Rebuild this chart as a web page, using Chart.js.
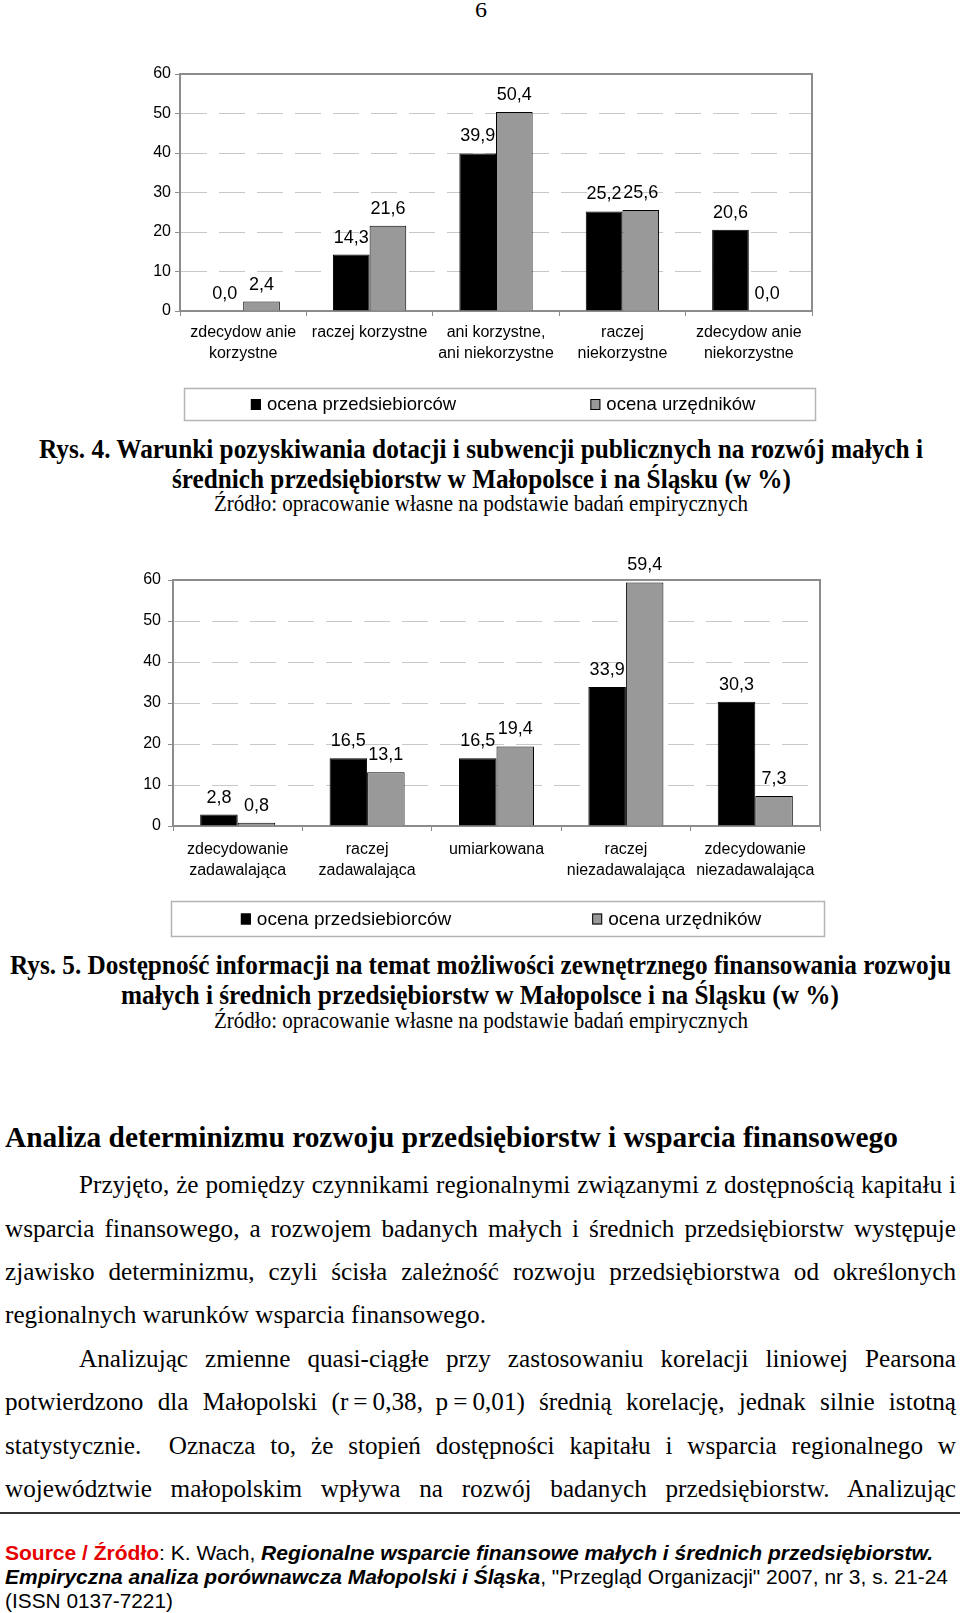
<!DOCTYPE html>
<html><head><meta charset="utf-8">
<script src="https://cdn.jsdelivr.net/npm/chart.js@4.4.0/dist/chart.umd.min.js"></script>
<style>
html,body{margin:0;padding:0;background:#fff;}
body{width:960px;height:1613px;position:relative;overflow:hidden;}
canvas{position:absolute;}
.t{position:absolute;white-space:nowrap;transform-origin:0 50%;color:#000;}
.serif{font-family:"Liberation Serif","Times New Roman",serif;}
.sans{font-family:"Liberation Sans",Arial,sans-serif;}
</style></head><body>
<canvas id="c1" width="700" height="380" style="left:130px;top:50px"></canvas>
<canvas id="c2" width="720" height="390" style="left:120px;top:555px"></canvas>
<script>
// ---- data ----
const seriesNames = ['ocena przedsiebiorców', 'ocena urzędników'];
const cats1 = [['zdecydow anie','korzystne'], 'raczej korzystne', ['ani korzystne,','ani niekorzystne'], ['raczej','niekorzystne'], ['zdecydow anie','niekorzystne']];
const przed1 = [0.0, 14.3, 39.9, 25.2, 20.6];
const urz1   = [2.4, 21.6, 50.4, 25.6, 0.0];
const cats2 = [['zdecydowanie','zadawalająca'], ['raczej','zadawalająca'], 'umiarkowana', ['raczej','niezadawalająca'], ['zdecydowanie','niezadawalająca']];
const przed2 = [2.8, 16.5, 16.5, 33.9, 30.3];
const urz2   = [0.8, 13.1, 19.4, 59.4, 7.3];
const yMin = 0, yMax = 60, yStep = 10;

const SANS = '"Liberation Sans", Arial, sans-serif';
Chart.defaults.font.family = SANS;
Chart.defaults.color = '#000';

const valueLabels = {
  id: 'valueLabels',
  afterDatasetsDraw(chart, args, o) {
    const ctx = chart.ctx;
    ctx.save();
    ctx.font = o.size + 'px ' + SANS;
    ctx.fillStyle = '#000';
    ctx.textAlign = 'center';
    ctx.textBaseline = 'alphabetic';
    chart.data.datasets.forEach((ds, i) => {
      chart.getDatasetMeta(i).data.forEach((bar, j) => {
        const txt = ds.data[j].toFixed(1).replace('.', ',');
        ctx.fillText(txt, bar.x, bar.y - o.gap);
      });
    });
    ctx.restore();
  }
};
const frame = {
  id: 'frame',
  afterDraw(chart) {
    const {ctx, chartArea: a} = chart;
    ctx.save();
    ctx.strokeStyle = '#8c8c8c';
    ctx.lineWidth = 2;
    ctx.beginPath();
    ctx.moveTo(a.left, a.top); ctx.lineTo(a.right, a.top); ctx.lineTo(a.right, a.bottom);
    ctx.stroke();
    ctx.restore();
  }
};
const boxLegend = {
  id: 'boxLegend',
  afterDraw(chart, args, o) {
    const ctx = chart.ctx;
    ctx.save();
    ctx.strokeStyle = '#b4b4b4';
    ctx.lineWidth = 1.5;
    ctx.strokeRect(o.x + 0.5, o.y + 0.5, o.w, o.h);
    ctx.font = o.size + 'px ' + SANS;
    ctx.textBaseline = 'middle';
    ctx.textAlign = 'left';
    const cy = o.y + o.h / 2;
    chart.data.datasets.forEach((ds, i) => {
      const sx = o.x + o.w * o.pos[i];
      ctx.fillStyle = ds.backgroundColor;
      ctx.fillRect(sx, cy - 5, 10, 11);
      ctx.strokeStyle = '#000';
      ctx.lineWidth = 1;
      ctx.strokeRect(sx + 0.5, cy - 4.5, 9, 10);
      ctx.fillStyle = '#000';
      ctx.fillText(ds.label, sx + 16, cy + 1);
    });
    ctx.restore();
  }
};

function makeChart(id, cats, a, b, L) {
  return new Chart(document.getElementById(id), {
    type: 'bar',
    data: {
      labels: cats,
      datasets: [
        {label: seriesNames[0], data: a, backgroundColor: '#000000', borderColor: '#000', borderWidth: 1},
        {label: seriesNames[1], data: b, backgroundColor: '#999999', borderColor: '#000', borderWidth: 1}
      ]
    },
    options: {
      responsive: false, animation: false, devicePixelRatio: 1,
      categoryPercentage: 0.58, barPercentage: 1,
      layout: {padding: {left: 0, right: L.pr, top: L.pt, bottom: 0}},
      plugins: {
        legend: {display: false}, title: {display: false}, tooltip: {enabled: false},
        valueLabels: {size: 18, gap: 12},
        boxLegend: L.legend
      },
      scales: {
        x: {
          offset: true,
          grid: {display: true, drawOnChartArea: false, drawTicks: true, tickLength: 5, tickColor: '#8c8c8c', offset: true},
          border: {display: true, color: '#8c8c8c', width: 2},
          ticks: {color: '#000', font: {size: 16, lineHeight: 1.32}, padding: L.xpad, maxRotation: 0, minRotation: 0, autoSkip: false},
          afterFit: s => { s.height = L.xh; }
        },
        y: {
          min: yMin, max: yMax,
          ticks: {stepSize: yStep, color: '#000', font: {size: 16}, padding: L.ypad},
          grid: {color: '#c8c8c8', lineWidth: 1, tickLength: 5, tickColor: '#8c8c8c', drawTicks: true},
          border: {display: true, color: '#8c8c8c', width: 2, dash: [26, 12]},
          afterFit: s => { s.width = L.yw; }
        }
      }
    },
    plugins: [valueLabels, frame, boxLegend]
  });
}

makeChart('c1', cats1, przed1, urz1, {pr: 18, pt: 24, xh: 119, yw: 50, xpad: 6, ypad: 4,
  legend: {x: 54, y: 338, w: 631, h: 32, size: 18.5, pos: [0.106, 0.644]}});
makeChart('c2', cats2, przed2, urz2, {pr: 20, pt: 25, xh: 119, yw: 53, xpad: 8, ypad: 7,
  legend: {x: 51, y: 346, w: 653, h: 35, size: 19, pos: [0.107, 0.645]}});

// ---- page text ----
const textLines = [
  {t: '6', f: 'serif', s: 22, l: 475, r: 487, cy: 10},
  {t: 'Rys. 4. Warunki pozyskiwania dotacji i subwencji publicznych na rozwój małych i', f: 'serif', b: 1, s: 28, l: 39, r: 923, cy: 449},
  {t: 'średnich przedsiębiorstw w Małopolsce i na Śląsku (w %)', f: 'serif', b: 1, s: 28, l: 172, r: 791, cy: 479},
  {t: 'Źródło: opracowanie własne na podstawie badań empirycznych', f: 'serif', s: 23, l: 214, r: 748, cy: 504},
  {t: 'Rys. 5. Dostępność informacji na temat możliwości zewnętrznego finansowania rozwoju', f: 'serif', b: 1, s: 28, l: 10, r: 951, cy: 965},
  {t: 'małych i średnich przedsiębiorstw w Małopolsce i na Śląsku (w %)', f: 'serif', b: 1, s: 28, l: 121, r: 839, cy: 995},
  {t: 'Źródło: opracowanie własne na podstawie badań empirycznych', f: 'serif', s: 23, l: 214, r: 748, cy: 1021},
  {t: 'Analiza determinizmu rozwoju przedsiębiorstw i wsparcia finansowego', f: 'serif', b: 1, s: 29, l: 5, r: 898, cy: 1137},
  {t: 'Przyjęto, że pomiędzy czynnikami regionalnymi związanymi z dostępnością kapitału i', f: 'serif', s: 25, l: 79, r: 956, cy: 1185, j: 1, g: 'p'},
  {t: 'wsparcia finansowego, a rozwojem badanych małych i średnich przedsiębiorstw występuje', f: 'serif', s: 25, l: 5, r: 956, cy: 1229, j: 1, g: 'p'},
  {t: 'zjawisko determinizmu, czyli ścisła zależność rozwoju przedsiębiorstwa od określonych', f: 'serif', s: 25, l: 5, r: 956, cy: 1272, j: 1, g: 'p'},
  {t: 'regionalnych warunków wsparcia finansowego.', f: 'serif', s: 25, l: 5, r: 486, cy: 1315, g: 'p'},
  {t: 'Analizując zmienne quasi-ciągłe przy zastosowaniu korelacji liniowej Pearsona', f: 'serif', s: 25, l: 79, r: 956, cy: 1359, j: 1, g: 'p'},
  {t: 'potwierdzono dla Małopolski (r\u2009=\u20090,38,\u2002p\u2009=\u20090,01) średnią korelację, jednak silnie istotną', f: 'serif', s: 25, l: 5, r: 956, cy: 1402, j: 1, g: 'p'},
  {t: 'statystycznie.\u2002 Oznacza to, że stopień dostępności kapitału i wsparcia regionalnego w', f: 'serif', s: 25, l: 5, r: 956, cy: 1446, j: 1, g: 'p'},
  {t: 'województwie małopolskim wpływa na rozwój badanych przedsiębiorstw. Analizując', f: 'serif', s: 25, l: 5, r: 956, cy: 1489, j: 1, g: 'p'},
  {t: '<span style="color:#e60000;font-weight:bold">Source / Źródło</span>: K. Wach, <b><i>Regionalne wsparcie finansowe małych i średnich przedsiębiorstw.</i></b>', f: 'sans', s: 21, l: 5, r: 933, cy: 1553},
  {t: '<b><i>Empiryczna analiza porównawcza Małopolski i Śląska</i></b>, "Przegląd Organizacji" 2007, nr 3, s. 21-24', f: 'sans', s: 21, l: 5, r: 948, cy: 1577},
  {t: '(ISSN 0137-7221)', f: 'sans', s: 21, l: 5, r: 173, cy: 1601}
];
const groupScale = {};
const made = textLines.map(o => {
  const d = document.createElement('div');
  d.className = 't ' + o.f;
  d.style.fontSize = o.s + 'px';
  d.style.fontWeight = o.b ? 'bold' : 'normal';
  d.style.lineHeight = (o.s * 1.2) + 'px';
  d.style.left = o.l + 'px';
  d.style.top = (o.cy - o.s * 0.6) + 'px';
  d.innerHTML = o.t;
  document.body.appendChild(d);
  const w = d.getBoundingClientRect().width;
  if (!o.j && o.g) groupScale[o.g] = (o.r - o.l) / w;
  return {o, d, w};
});
made.forEach(({o, d, w}) => {
  const target = o.r - o.l;
  if (o.j) {
    const n = (d.textContent.match(/ /g) || []).length;
    const s = Math.min(groupScale[o.g] || 1, target / w);
    const ws = (target / s - w) / n;
    d.style.wordSpacing = ws + 'px';
    d.style.transform = 'scaleX(' + s + ')';
  } else {
    d.style.transform = 'scaleX(' + (target / w) + ')';
  }
});
const rule = document.createElement('div');
rule.style.cssText = 'position:absolute;left:0;top:1512px;width:960px;height:2px;background:#333;';
document.body.appendChild(rule);
</script>
</body></html>
